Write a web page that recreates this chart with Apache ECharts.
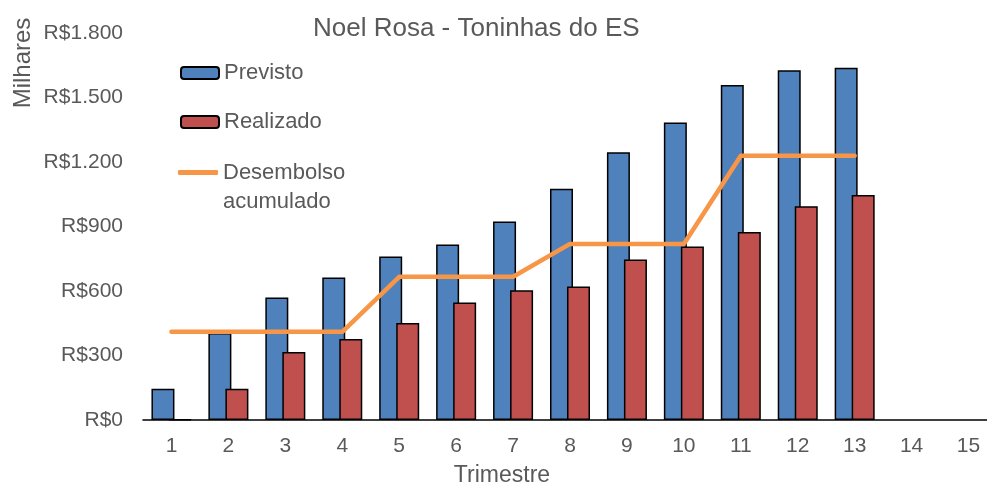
<!DOCTYPE html>
<html>
<head>
<meta charset="utf-8">
<script src="https://cdn.jsdelivr.net/npm/echarts@6/dist/echarts.min.js"></script>
<style>
  html, body { margin: 0; padding: 0; background: #fff; }
  #chart { width: 987px; height: 489px; }
</style>
</head>
<body>
<div id="chart"></div>
<script>
const trimestres = ['1', '2', '3', '4', '5', '6', '7', '8', '9', '10', '11', '12', '13', '14', '15'];
const previsto = [145, 405, 570, 663, 760, 816, 923, 1076, 1245, 1384, 1558, 1627, 1638, null, null];
const realizado = [3, 145, 316, 377, 451, 547, 603, 621, 747, 807, 874, 994, 1047, null, null];
const desembolso = [410, 410, 410, 410, 666, 666, 666, 819, 819, 819, 1229, 1229, 1229, null, null];

const textColor = '#595959';
const font = 'Liberation Sans';

function fmtReal(v) {
  return 'R$' + String(v).replace(/\B(?=(\d{3})+(?!\d))/g, '.');
}

const chart = echarts.init(document.getElementById('chart'));

const legendBase = {
  orient: 'vertical',
  padding: 0,
  itemWidth: 38,
  itemHeight: 12,
  textStyle: { fontFamily: font, fontSize: 22, color: textColor, lineHeight: 28 }
};

const option = {
  animation: false,
  title: {
    text: 'Noel Rosa - Toninhas do ES',
    left: 313,
    top: 16,
    padding: 0,
    textStyle: { fontFamily: font, fontSize: 26, fontWeight: 'normal', color: textColor }
  },
  legend: [
    Object.assign({}, legendBase, { left: 180, top: 59, data: ['Previsto'] }),
    Object.assign({}, legendBase, { left: 180, top: 108, data: ['Realizado'] }),
    Object.assign({}, legendBase, {
      left: 178, top: 129, itemWidth: 40, itemHeight: 5,
      data: [{ name: 'Desembolso acumulado', icon: 'roundRect' }],
      // first line left blank so the icon lines up with "Desembolso"
      formatter: () => ' \nDesembolso\nacumulado',
      textStyle: { fontFamily: font, fontSize: 22, color: textColor, lineHeight: 29 }
    })
  ],
  grid: { left: 143, top: 33, right: -10, bottom: 69, containLabel: false, outerBoundsMode: 'none' },
  graphic: [{
    type: 'text',
    x: 23, y: 63,
    rotation: Math.PI / 2,
    style: {
      text: 'Milhares', fontFamily: font, fontSize: 24, fill: textColor,
      textAlign: 'center', textVerticalAlign: 'middle'
    }
  }],
  xAxis: {
    type: 'category',
    data: trimestres,
    name: 'Trimestre',
    nameLocation: 'middle',
    nameGap: 44,
    nameTextStyle: { fontFamily: font, fontSize: 23, color: textColor, padding: [0, 136, 0, 0] },
    axisLine: { lineStyle: { color: '#000', width: 1.5 } },
    axisTick: { inside: true, length: 7, lineStyle: { color: '#000', width: 1.5 } },
    axisLabel: { fontFamily: font, fontSize: 21, color: textColor, margin: 16 }
  },
  yAxis: {
    type: 'value',
    min: 0, max: 1800, interval: 300,
    axisLine: { show: false },
    axisTick: { show: false },
    splitLine: { show: false },
    axisLabel: { fontFamily: font, fontSize: 21, color: textColor, margin: 20, formatter: fmtReal }
  },
  series: [
    {
      name: 'Previsto', type: 'bar', data: previsto,
      barWidth: 23, barGap: '-26%',
      itemStyle: { color: '#4F81BD', borderColor: '#000', borderWidth: 1.5 }
    },
    {
      name: 'Realizado', type: 'bar', data: realizado,
      barWidth: 23,
      itemStyle: { color: '#C0504D', borderColor: '#000', borderWidth: 1.5 }
    },
    {
      name: 'Desembolso acumulado', type: 'line', data: desembolso,
      symbol: 'none',
      lineStyle: { color: '#F79646', width: 4.5, cap: 'round', join: 'round' },
      itemStyle: { color: '#F79646' }
    }
  ]
};

chart.setOption(option);
</script>
</body>
</html>
